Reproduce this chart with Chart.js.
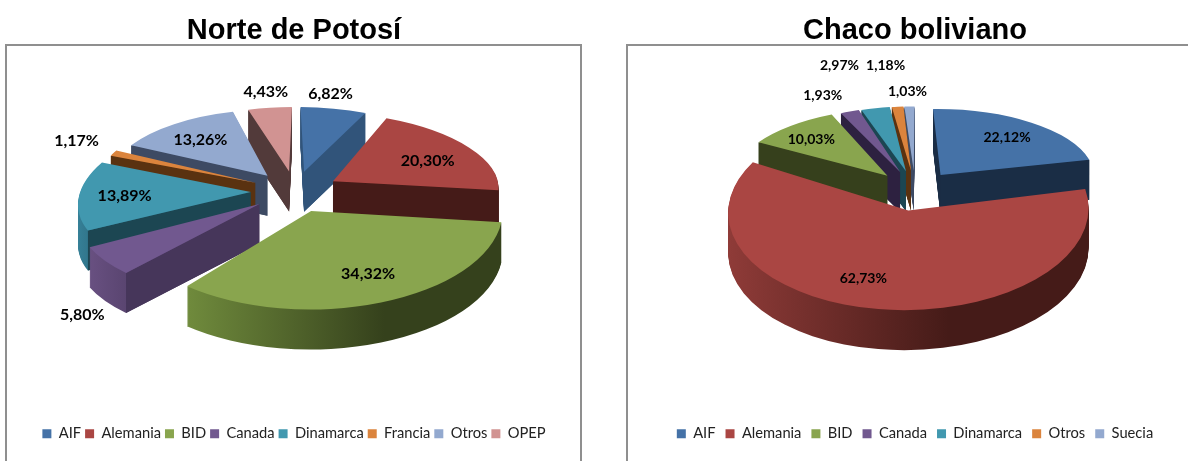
<!DOCTYPE html>
<html>
<head>
<meta charset="utf-8">
<title>Norte de Potosí / Chaco boliviano</title>
<script src="https://cdn.jsdelivr.net/npm/chart.js@4"></script>
<style>
  html, body { margin: 0; background: #fff; overflow: hidden; }
  body { width: 1188px; height: 461px; position: relative; }
  .frame { position: absolute; top: 44px; height: 430px; border: 2px solid #8f8f8f; box-sizing: border-box; }
  canvas { position: absolute; top: 0; }
</style>
</head>
<body>
<div class="frame" style="left:5px; width:577px"></div>
<div class="frame" style="left:626px; width:600px"></div>
<canvas id="norteChart" width="576" height="461" style="left:6px"></canvas>
<canvas id="chacoChart" width="576" height="461" style="left:627px"></canvas>
<script>
// --- Data ---
const norteLabels = ['AIF', 'Alemania', 'BID', 'Canada', 'Dinamarca', 'Francia', 'Otros', 'OPEP'];
const norteValues = [6.82, 20.30, 34.32, 5.80, 13.89, 1.17, 13.26, 4.43];
const chacoLabels = ['AIF', 'Alemania', 'BID', 'Canada', 'Dinamarca', 'Otros', 'Suecia'];
const chacoValues = [22.12, 62.73, 10.03, 1.93, 2.97, 1.18, 1.03];

// --- Colours ---
const norteColors = ['#4572A7', '#AA4643', '#89A54E', '#71588F', '#4198AF', '#DB843D', '#93A9CF', '#D19392'];
const norteWalls = ['#31547a', '#451b18', '#35411c', '#46365a', '#1c4652', '#5a3210', '#3d4a63', '#523a3a'];
const norteRims = ['#31547a', '#451b18', '#6f8a3c', '#6b5284', '#37839b', '#5a3210', '#3d4a63', '#523a3a'];
const chacoColors = ['#4572A7', '#AA4643', '#89A54E', '#71588F', '#4198AF', '#DB843D', '#93A9CF'];
const chacoWalls = ['#1a2d45', '#451b18', '#36401c', '#2d2140', '#1c4652', '#5a3210', '#3d4a63'];
const chacoRims = ['#1a2d45', '#8f3b38', '#36401c', '#2d2140', '#1c4652', '#5a3210', '#3d4a63'];

// label placement: distance along the slice's middle, then a nudge in px
const norteSpots = [[1, -3, -15], [0.6, 13, 0], [0.6, 15, 8], [1, -23, 54], [0.6, -23, 1], [1, -37, -12], [0.6, -11, -5], [1, -4, -16]];
const chacoSpots = [[0.6, 12, -6], [0.6, -27, 9], [0.6, -18, -6], [1, -27, -16], [1, -36, -43], [1, -12, -41], [1, -2, -15]];

// "camera" for the tilted pies
const norteView = { cx: 289, cy: 191, rx: 170, ry: 79, k: 0.15, explode: 0.26, depth: 40, labelSize: 16, legendGap: 4 };
const chacoView = { cx: 288, cy: 190, rx: 167, ry: 80, k: 0.16, explode: 0.25, depth: 40, labelSize: 14, legendGap: 10 };

function project(view, u, v) {
  const w = 1 - view.k * v;
  return [view.cx + view.rx * u / w, view.cy + view.ry * v / w];
}

// Best flat transform for one slice, since canvas can't do real perspective
function fitSlice(view, arc) {
  const mid = (arc.startAngle + arc.endAngle) / 2;
  const ex = Math.cos(mid) * view.explode;
  const ey = Math.sin(mid) * view.explode;
  const apex = project(view, ex, ey);
  let suu = 0, suv = 0, svv = 0, sux = 0, svx = 0, suy = 0, svy = 0;
  const add = (a, weight) => {
    const u = Math.cos(a), v = Math.sin(a);
    const p = project(view, ex + u, ey + v);
    const x = p[0] - apex[0], y = p[1] - apex[1];
    suu += weight * u * u; suv += weight * u * v; svv += weight * v * v;
    sux += weight * u * x; svx += weight * v * x;
    suy += weight * u * y; svy += weight * v * y;
  };
  for (let i = 0; i <= 16; i++) add(arc.startAngle + (arc.endAngle - arc.startAngle) * i / 16, 1);
  // tiny slices need the whole circle a little, or the fit falls over
  for (let i = 0; i < 24; i++) add(i * Math.PI / 12, 0.03);
  const det = suu * svv - suv * suv;
  const m = {
    a: (sux * svv - svx * suv) / det,
    c: (svx * suu - sux * suv) / det,
    b: (suy * svv - svy * suv) / det,
    d: (svy * suu - suy * suv) / det,
    ex: apex[0], ey: apex[1]
  };
  m.at = (f, a) => [m.ex + f * (m.a * Math.cos(a) + m.c * Math.sin(a)), m.ey + f * (m.b * Math.cos(a) + m.d * Math.sin(a))];
  return m;
}

function drawArc(ctx, arc, m, z, fill) {
  const r = arc.outerRadius;
  const copy = Object.create(arc);
  copy.options = Object.assign({}, arc.options, { backgroundColor: fill, borderWidth: 0 });
  ctx.save();
  ctx.transform(m.a / r, m.b / r, m.c / r, m.d / r, m.ex, m.ey + z);
  ctx.translate(-arc.x, -arc.y);
  copy.draw(ctx);
  ctx.restore();
}

function makePie3d(view, walls, rims, spots) {
  return {
    id: 'pie3d',
    beforeDatasetsDraw(chart) {
      const ctx = chart.ctx;
      const arcs = chart.getDatasetMeta(0).data;
      const colors = chart.data.datasets[0].backgroundColor;
      const order = arcs.map((arc, i) => i).sort((p, q) =>
        Math.sin((arcs[p].startAngle + arcs[p].endAngle) / 2) - Math.sin((arcs[q].startAngle + arcs[q].endAngle) / 2));
      order.forEach(i => {
        const arc = arcs[i];
        const m = fitSlice(view, arc);
        const r = arc.outerRadius;
        const mid = (arc.startAngle + arc.endAngle) / 2;

        // rim: same slice stacked downward, shaded left to right
        let x0 = m.ex, x1 = m.ex;
        for (let n = 0; n <= 16; n++) {
          const x = m.at(1, arc.startAngle + (arc.endAngle - arc.startAngle) * n / 16)[0];
          x0 = Math.min(x0, x); x1 = Math.max(x1, x);
        }
        const toArc = sx => arc.x + (sx - m.ex) * r / m.a;
        const grad = ctx.createLinearGradient(toArc(x0), arc.y, toArc(x1), arc.y);
        grad.addColorStop(0, rims[i]);
        grad.addColorStop(0.62, walls[i]);
        grad.addColorStop(1, walls[i]);
        for (let z = view.depth; z > 0; z--) drawArc(ctx, arc, m, z, grad);

        // cut faces that look toward us
        const inner = m.at(1, mid);
        [arc.startAngle, arc.endAngle].forEach(a => {
          const t = m.at(1, a);
          const side = (t[0] - m.ex) * (inner[1] - m.ey) - (t[1] - m.ey) * (inner[0] - m.ex);
          if (side * (t[0] - m.ex) >= 0) return;
          ctx.fillStyle = walls[i];
          ctx.beginPath();
          ctx.moveTo(m.ex, m.ey);
          ctx.lineTo(t[0], t[1]);
          ctx.lineTo(t[0], t[1] + view.depth);
          ctx.lineTo(m.ex, m.ey + view.depth);
          ctx.closePath();
          ctx.fill();
        });

        drawArc(ctx, arc, m, 0, colors[i]);
      });

      ctx.save();
      ctx.fillStyle = '#000';
      ctx.font = 'bold ' + view.labelSize + 'px Lato';
      ctx.textAlign = 'center';
      ctx.textBaseline = 'middle';
      arcs.forEach((arc, i) => {
        const m = fitSlice(view, arc);
        const p = m.at(spots[i][0], (arc.startAngle + arc.endAngle) / 2);
        const text = chart.data.datasets[0].data[i].toFixed(2).replace('.', ',') + '%';
        ctx.fillText(text, p[0] + spots[i][1], p[1] + spots[i][2]);
      });
      ctx.restore();
      return false;
    }
  };
}

function pieChart(id, title, labels, values, colors, walls, rims, spots, view) {
  return new Chart(document.getElementById(id), {
    type: 'pie',
    data: { labels: labels, datasets: [{ data: values, backgroundColor: colors, borderWidth: 0 }] },
    options: {
      responsive: false,
      animation: false,
      radius: 100,
      layout: { padding: { bottom: 10 } },
      plugins: {
        title: {
          display: true,
          text: title,
          color: '#000',
          font: { family: 'Liberation Sans', size: 29, weight: 'bold' },
          padding: { top: 14, bottom: 0 }
        },
        legend: {
          position: 'bottom',
          onClick: null,
          labels: { boxWidth: 9, boxHeight: 9, padding: view.legendGap, color: '#222', font: { family: 'Lato', size: 14.7 } }
        },
        tooltip: { enabled: false }
      }
    },
    plugins: [makePie3d(view, walls, rims, spots)]
  });
}

pieChart('norteChart', 'Norte de Potosí', norteLabels, norteValues, norteColors, norteWalls, norteRims, norteSpots, norteView);
pieChart('chacoChart', 'Chaco boliviano', chacoLabels, chacoValues, chacoColors, chacoWalls, chacoRims, chacoSpots, chacoView);
</script>
</body>
</html>
